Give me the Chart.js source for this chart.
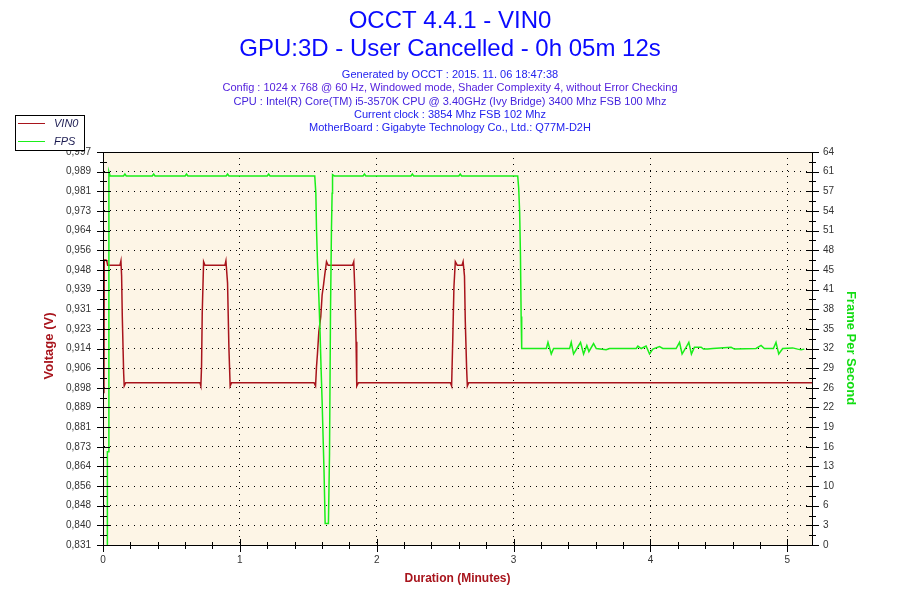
<!DOCTYPE html>
<html>
<head>
<meta charset="utf-8">
<title>OCCT 4.4.1 - VIN0</title>
<script src="https://cdn.jsdelivr.net/npm/chart.js@4.4.0/dist/chart.umd.min.js"></script>
<style>
  html, body { margin: 0; padding: 0; background: #fff; }
  canvas { display: block; }
</style>
</head>
<body>
<canvas id="occtChart" width="900" height="600"></canvas>
<script>
// VIN0 trace (minutes / volts)
const vinTime = [0.007, 0.009, 0.022, 0.029, 0.034, 0.124, 0.131, 0.136, 0.141, 0.151, 0.155, 0.166,
  0.708, 0.715, 0.720, 0.725, 0.735, 0.745, 0.891, 0.898, 0.910, 0.920, 0.929, 0.939,
  1.542, 1.553, 1.560, 1.567, 1.577, 1.591, 1.601, 1.611, 1.620, 1.633, 1.645,
  1.823, 1.832, 1.839, 1.849, 1.854, 1.866,
  2.538, 2.547, 2.555, 2.564, 2.574, 2.588, 2.623, 2.631, 2.641, 2.647, 2.657, 2.662, 2.672, 5.180];
const vinValue = [0.8954, 0.9518, 0.9518, 0.9510, 0.9496, 0.9496, 0.9514, 0.9450, 0.9278, 0.9039, 0.8985, 0.8999,
  0.8999, 0.8985, 0.9067, 0.9293, 0.9511, 0.9496, 0.9496, 0.9514, 0.9420, 0.9144, 0.8985, 0.8999,
  0.8999, 0.8985, 0.9067, 0.9123, 0.9215, 0.9278, 0.9370, 0.9412, 0.9455, 0.9511, 0.9496,
  0.9496, 0.9511, 0.9405, 0.9172, 0.8985, 0.8999,
  0.8999, 0.8985, 0.9172, 0.9405, 0.9511, 0.9496, 0.9496, 0.9511, 0.9450, 0.9257, 0.9053, 0.8985, 0.8999, 0.8999];

// FPS trace (minutes / frames per second)
const fpsTime = [0.030, 0.032, 0.041, 0.043, 0.052, 0.150, 0.160, 0.170, 0.360, 0.370, 0.380, 0.600, 0.610, 0.620,
  0.900, 0.910, 0.920, 1.200, 1.210, 1.220, 1.547,
  1.555, 1.560, 1.567, 1.577, 1.586, 1.593, 1.601, 1.608, 1.615, 1.623, 1.647, 1.655, 1.662, 1.669, 1.674, 1.677, 1.690,
  1.900, 1.910, 1.920, 2.250, 2.260, 2.270, 2.600, 2.610, 2.620, 3.030,
  3.037, 3.044, 3.050, 3.055, 3.059, 3.239, 3.251, 3.275, 3.292,
  3.409, 3.421, 3.438, 3.462, 3.489, 3.511, 3.535, 3.550, 3.584, 3.604, 3.676, 3.701,
  3.896, 3.908, 3.932, 3.968, 3.993, 4.017, 4.066, 4.090,
  4.187, 4.212, 4.231, 4.255, 4.280, 4.299, 4.321, 4.370, 4.387, 4.418, 4.455,
  4.589, 4.613, 4.771, 4.808, 4.832, 4.898, 4.917, 4.937, 4.966, 5.039, 5.075, 5.100, 5.124];
const fpsValue = [0, 15.2, 15.2, 60.8, 60.1, 60.1, 60.4, 60.1, 60.1, 60.4, 60.1, 60.1, 60.4, 60.1,
  60.1, 60.4, 60.1, 60.1, 60.4, 60.1, 60.1,
  57.3, 51.3, 46.1, 40.4, 34.5, 29.0, 23.3, 17.6, 11.9, 3.5, 3.5, 14.9, 37.5, 51.3, 57.3, 60.3, 60.1,
  60.1, 60.4, 60.1, 60.1, 60.4, 60.1, 60.1, 60.4, 60.1, 60.1,
  58.1, 54.3, 47.2, 37.2, 32.0, 32.0, 33.0, 31.1, 32.0,
  32.0, 33.0, 31.1, 32.0, 33.0, 31.1, 32.5, 31.5, 32.8, 32.0, 31.8, 32.0,
  32.0, 32.4, 32.0, 32.4, 31.1, 31.9, 32.3, 32.0,
  32.0, 33.0, 31.1, 32.0, 33.0, 31.1, 32.2, 32.2, 31.9, 31.9, 32.0,
  32.2, 31.9, 32.0, 32.5, 32.0, 32.0, 33.0, 31.1, 32.0, 32.1, 31.9, 31.8, 31.9];

// axes
const durationMax = 5.18;
const xTickLabels = ['0', '1', '2', '3', '4', '5'];
const voltMin = 0.8312, voltMax = 0.9975;
const voltLabels = ['0,831', '0,840', '0,848', '0,856', '0,864', '0,873', '0,881', '0,889', '0,898', '0,906', '0,914',
  '0,923', '0,931', '0,939', '0,948', '0,956', '0,964', '0,973', '0,981', '0,989', '0,997'];
const fpsMax = 64;
const fpsLabels = ['0', '3', '6', '10', '13', '16', '19', '22', '26', '29', '32',
  '35', '38', '41', '45', '48', '51', '54', '57', '61', '64'];

const titleLines = ['OCCT 4.4.1 - VIN0', 'GPU:3D - User Cancelled - 0h 05m 12s'];
const infoLines = [
  'Generated by OCCT : 2015. 11. 06 18:47:38',
  'Config : 1024 x 768 @ 60 Hz, Windowed mode, Shader Complexity 4, without Error Checking',
  'CPU : Intel(R) Core(TM) i5-3570K CPU @ 3.40GHz (Ivy Bridge) 3400 Mhz FSB 100 Mhz',
  'Current clock : 3854 Mhz FSB 102 Mhz',
  'MotherBoard : Gigabyte Technology Co., Ltd.: Q77M-D2H'
];

const RED = '#a8141c';
const GREEN = '#1aee1a';

const toPoints = (xs, ys) => xs.map((x, i) => ({ x: x, y: ys[i] }));

// background, frame, tick marks, titles and legend
const occtDecor = {
  id: 'occtDecor',
  beforeDraw(chart) {
    const { ctx, chartArea: a } = chart;
    ctx.save();
    ctx.fillStyle = '#fff';
    ctx.fillRect(0, 0, chart.width, chart.height);
    ctx.fillStyle = '#fdf5e6';
    ctx.fillRect(a.left, a.top, a.right - a.left, a.bottom - a.top);
    ctx.restore();
  },
  afterDraw(chart) {
    const { ctx, chartArea: a } = chart;
    const sx = chart.scales.x, sv = chart.scales.yV, sf = chart.scales.yF;
    ctx.save();
    ctx.strokeStyle = '#000';
    ctx.lineWidth = 1;
    ctx.strokeRect(a.left + 0.5, a.top + 0.5, a.right - a.left, a.bottom - a.top);

    // tick marks crossing the axes
    ctx.beginPath();
    const vStep = (voltMax - voltMin) / (voltLabels.length - 1);
    for (let i = 0; i < voltLabels.length * 2 - 1; i++) {
      const y = Math.round(sv.getPixelForValue(voltMin + i * vStep / 2)) + 0.5;
      const big = i % 2 === 0;
      ctx.moveTo(a.left - (big ? 6 : 3), y); ctx.lineTo(a.left + (big ? 7 : 4), y);
    }
    const fStep = fpsMax / (fpsLabels.length - 1);
    for (let i = 0; i < fpsLabels.length * 2 - 1; i++) {
      const y = Math.round(sf.getPixelForValue(i * fStep / 2)) + 0.5;
      const big = i % 2 === 0;
      ctx.moveTo(a.right - (big ? 6 : 3), y); ctx.lineTo(a.right + (big ? 7 : 4), y);
    }
    for (let t = 0; t <= durationMax + 1e-6; t += 0.2) {
      const x = Math.round(sx.getPixelForValue(t)) + 0.5;
      const big = Math.abs(t - Math.round(t)) < 1e-6;
      ctx.moveTo(x, a.bottom - (big ? 6 : 3)); ctx.lineTo(x, a.bottom + (big ? 7 : 4));
    }
    ctx.stroke();

    // titles
    ctx.textAlign = 'center';
    ctx.textBaseline = 'alphabetic';
    ctx.fillStyle = '#0a0aff';
    ctx.font = '24px "Liberation Sans", Arial, sans-serif';
    ctx.fillText(titleLines[0], 450, 28);
    ctx.fillText(titleLines[1], 450, 56);
    ctx.font = '11px "Liberation Sans", Arial, sans-serif';
    ctx.textBaseline = 'middle';
    const infoColors = ['#2222ee', '#5522dd', '#4422dd', '#2222ee', '#2222ee'];
    infoLines.forEach((line, i) => {
      ctx.fillStyle = infoColors[i];
      ctx.fillText(line, 450, 75 + i * 13.3);
    });

    // axis titles
    ctx.font = 'bold 12px "Liberation Sans", Arial, sans-serif';
    ctx.fillStyle = RED;
    ctx.fillText('Duration (Minutes)', (a.left + a.right) / 2, 579);
    ctx.font = 'bold 13px "Liberation Sans", Arial, sans-serif';
    ctx.save();
    ctx.translate(49, 346);
    ctx.rotate(-Math.PI / 2);
    ctx.fillText('Voltage (V)', 0, 0);
    ctx.restore();
    ctx.save();
    ctx.fillStyle = '#11dd11';
    ctx.translate(851, 348);
    ctx.rotate(Math.PI / 2);
    ctx.fillText('Frame Per Second', 0, 0);
    ctx.restore();

    // legend box
    ctx.fillStyle = '#fff';
    ctx.fillRect(16, 116, 68, 34);
    ctx.strokeStyle = '#000';
    ctx.strokeRect(15.5, 115.5, 69, 35);
    ctx.textAlign = 'left';
    ctx.font = 'italic 11px "Liberation Sans", Arial, sans-serif';
    [[chart.data.datasets[1], 123.5], [chart.data.datasets[0], 141.5]].forEach(([ds, y]) => {
      ctx.strokeStyle = ds.borderColor;
      ctx.beginPath();
      ctx.moveTo(18, y); ctx.lineTo(45, y);
      ctx.stroke();
      ctx.fillStyle = '#1a1a50';
      ctx.fillText(ds.label, 54, y);
    });
    ctx.restore();
  }
};

const tickFont = { family: '"Liberation Sans", Arial, sans-serif', size: 10 };

new Chart(document.getElementById('occtChart'), {
  type: 'line',
  data: {
    datasets: [{
      label: 'FPS',
      data: toPoints(fpsTime, fpsValue),
      yAxisID: 'yF',
      borderColor: GREEN,
      borderWidth: 1.5,
      pointRadius: 0,
      tension: 0,
      order: 0
    }, {
      label: 'VIN0',
      data: toPoints(vinTime, vinValue),
      yAxisID: 'yV',
      borderColor: RED,
      borderWidth: 1.5,
      pointRadius: 0,
      tension: 0,
      order: 1
    }]
  },
  options: {
    responsive: false,
    animation: false,
    layout: { padding: { top: 152, left: 0, right: 0, bottom: 0 } },
    plugins: {
      legend: { display: false },
      title: { display: false },
      tooltip: { enabled: false }
    },
    scales: {
      x: {
        type: 'linear',
        min: 0,
        max: durationMax,
        afterBuildTicks: s => { s.ticks = xTickLabels.map((_, i) => ({ value: i })); },
        afterFit: s => { s.height = 55; },
        ticks: {
          autoSkip: false, maxRotation: 0, padding: 9, color: '#333', font: tickFont,
          callback: (v, i) => xTickLabels[i]
        },
        grid: { color: '#000', lineWidth: 1, drawTicks: false },
        border: { display: true, color: '#000', dash: [1, 5] }
      },
      yV: {
        type: 'linear',
        position: 'left',
        min: voltMin,
        max: voltMax,
        afterBuildTicks: s => {
          s.ticks = voltLabels.map((_, i) => ({ value: voltMin + i * (voltMax - voltMin) / (voltLabels.length - 1) }));
        },
        afterFit: s => { s.width = 103; },
        ticks: {
          autoSkip: false, padding: 12, color: '#333', font: tickFont,
          callback: (v, i) => voltLabels[i]
        },
        grid: { color: '#000', lineWidth: 1, drawTicks: false },
        border: { display: true, color: '#000', dash: [1, 5] }
      },
      yF: {
        type: 'linear',
        position: 'right',
        min: 0,
        max: fpsMax,
        afterBuildTicks: s => {
          s.ticks = fpsLabels.map((_, i) => ({ value: i * fpsMax / (fpsLabels.length - 1) }));
        },
        afterFit: s => { s.width = 88; },
        ticks: {
          autoSkip: false, padding: 11, color: '#333', font: tickFont,
          callback: (v, i) => fpsLabels[i]
        },
        grid: { drawOnChartArea: false, drawTicks: false },
        border: { display: true, color: '#000' }
      }
    }
  },
  plugins: [occtDecor]
});
</script>
</body>
</html>
